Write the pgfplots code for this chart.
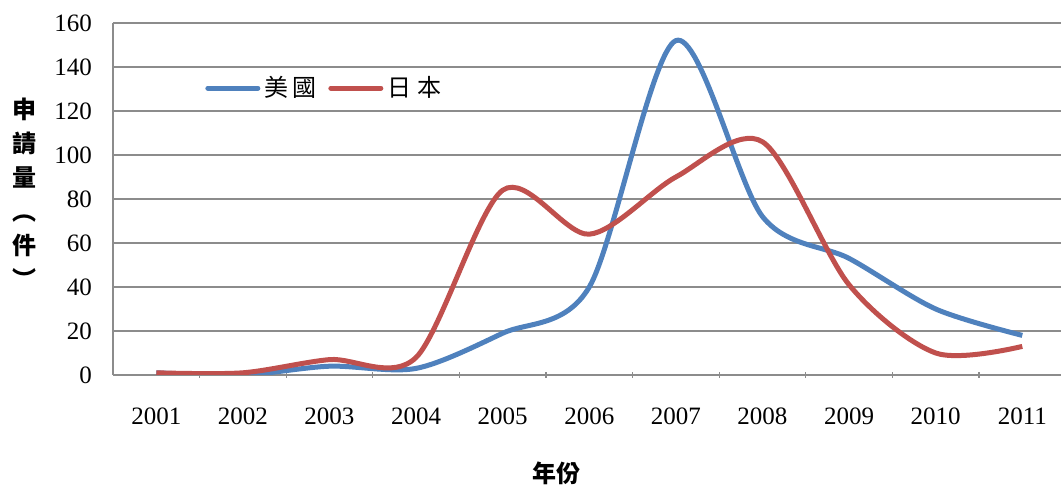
\documentclass[border=0pt]{standalone}
\usepackage{fontspec}
\setmainfont{Liberation Serif}
\newfontfamily\cjk{Noto Sans CJK TC}
\usepackage{pgfplots}
\pgfplotsset{compat=1.18}

\definecolor{usblue}{RGB}{79,129,189}
\definecolor{jpred}{RGB}{192,80,77}
\definecolor{gridgray}{RGB}{140,140,140}

\begin{document}
\begin{tikzpicture}
\useasboundingbox (-56.5pt,-55.5pt) rectangle (474pt,187.5pt);
\begin{axis}[
  scale only axis,
  width=474pt, height=176pt,
  xmin=-0.5, xmax=10.447,
  ymin=0, ymax=160,
  ytick={0,20,...,160},
  xtick={0,...,10},
  xticklabels={2001,2002,2003,2004,2005,2006,2007,2008,2009,2010,2011},
  minor xtick={0.5,1.5,...,9.5},
  major tick length=0pt,
  minor tick length=3pt,
  tick align=inside,
  axis lines=left,
  axis line style={-, draw=gridgray, line width=0.8pt},
  minor tick style={draw=gridgray, line width=0.6pt},
  ymajorgrids,
  grid style={draw=gridgray, line width=0.7pt},
  /pgf/number format/assume math mode=true,
  ticklabel style={font=\fontsize{12.5}{14}\selectfont},
  yticklabel style={xshift=-7pt},
  xticklabel style={yshift=-13pt},
  every axis y label/.style={at={(axis description cs:-0.093,0.517)}, anchor=center, align=center, font=\cjk\bfseries\fontsize{12}{17}\selectfont},
  ylabel={申\\請\\量\\︵\\件\\︶},
  every axis x label/.style={at={(axis description cs:0.468,-0.278)}, anchor=center, font=\cjk\bfseries\fontsize{12}{14}\selectfont},
  xlabel={年份},
  legend columns=-1,
  legend style={draw=none, fill=none, at={(axis description cs:0.097,0.815)}, anchor=west,
    font=\cjk\fontsize{12}{14}\selectfont, inner sep=0pt,
    /tikz/every even column/.append style={column sep=4pt}},
  legend image code/.code={\draw[#1, line cap=round] (0pt,0pt) -- (25pt,0pt);},
  every axis plot/.append style={line width=2.5pt, smooth, tension=0.5, mark=none},
]
\addplot[usblue] coordinates {
  (0,1) (1,0) (2,4) (3,3) (4,19) (5,40) (6,152) (7,72) (8,53) (9,30) (10,18)
};
\addplot[jpred] coordinates {
  (0,1) (1,1) (2,7) (3,8) (4,84) (5,64) (6,90) (7,106) (8,41) (9,10) (10,13)
};
\legend{美\kern2pt 國,日\kern3pt 本}
\end{axis}
\end{tikzpicture}
\end{document}
